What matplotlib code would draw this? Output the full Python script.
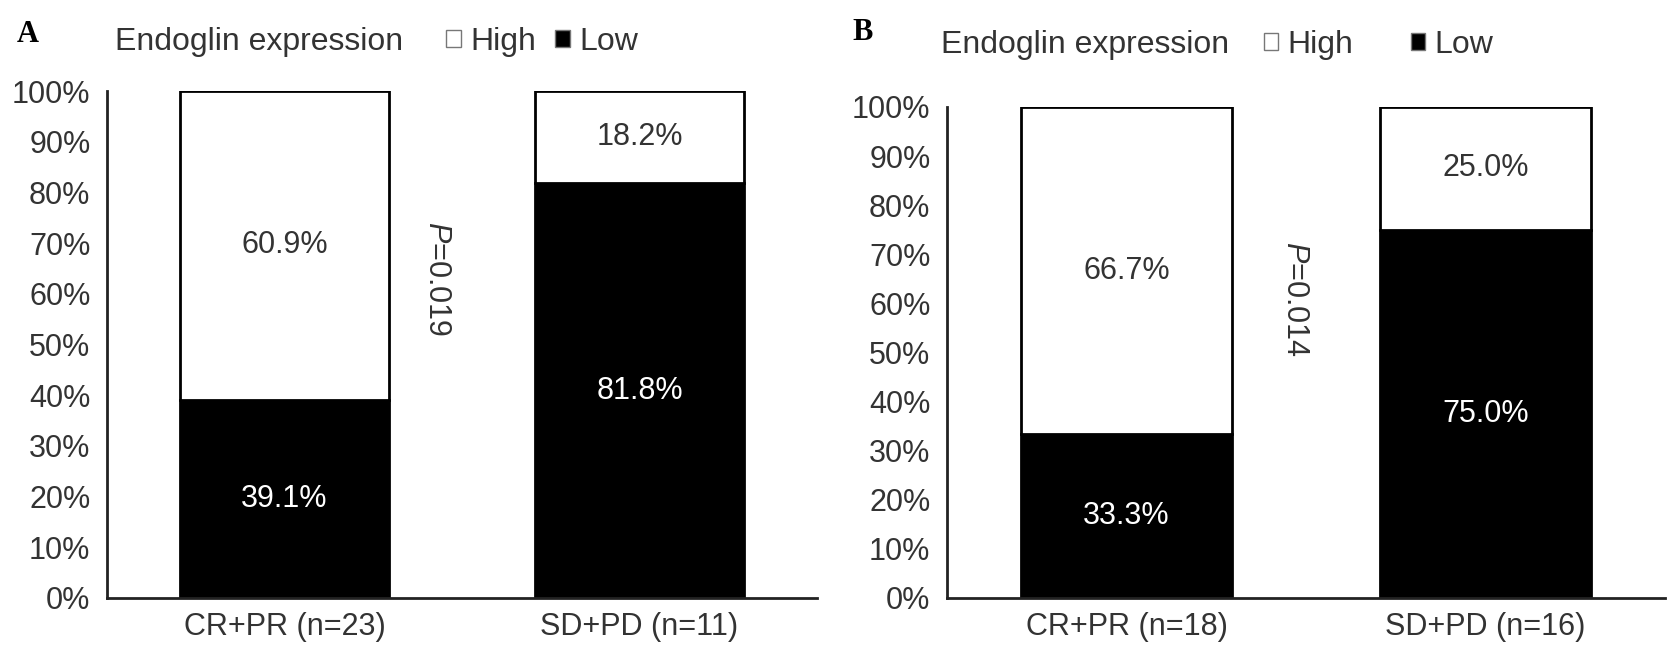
import matplotlib
matplotlib.use("Agg")
import matplotlib.pyplot as plt
import numpy as np

plt.rcParams["font.family"] = ["Liberation Sans", "DejaVu Sans"]
plt.rcParams["mathtext.fontset"] = "custom"
plt.rcParams["mathtext.rm"] = "Liberation Sans"
plt.rcParams["mathtext.it"] = "Liberation Sans:italic"

# panel A
groups_a = ["CR+PR (n=23)", "SD+PD (n=11)"]
low_a = [39.1, 81.8]
high_a = [60.9, 18.2]
p_a = "0.019"

# panel B
groups_b = ["CR+PR (n=18)", "SD+PD (n=16)"]
low_b = [33.3, 75.0]
high_b = [66.7, 25.0]
p_b = "0.014"

yticks = np.arange(0, 101, 10)
TXT = "#333333"
FS = 22


def draw_panel(ax, groups, low, high, p_text, p_x, p_y):
    x = np.arange(len(groups))
    w = 0.587
    b_low = ax.bar(x, low, width=w, color="black", edgecolor="black", linewidth=2, label="Low")
    b_high = ax.bar(x, high, width=w, bottom=low, color="white", edgecolor="black",
                    linewidth=2, label="High")
    for xi, lo, hi in zip(x, low, high):
        ax.text(xi, lo / 2, f"{lo:.1f}%", ha="center", va="center", color="white", fontsize=FS)
        ax.text(xi, lo + hi / 2, f"{hi:.1f}%", ha="center", va="center", color=TXT, fontsize=FS)
    ax.text(p_x, p_y, r"$\mathit{P}$=" + p_text, rotation=270, ha="center", va="center",
            color=TXT, fontsize=FS)
    ax.set_xlim(-0.5, len(groups) - 0.5)
    ax.set_ylim(0, 100)
    ax.set_yticks(yticks)
    ax.set_yticklabels([f"{v}%" for v in yticks])
    ax.set_xticks(x)
    ax.set_xticklabels(groups)
    ax.tick_params(axis="y", length=0, pad=12, labelsize=FS, labelcolor=TXT)
    ax.tick_params(axis="x", length=0, pad=10, labelsize=FS, labelcolor=TXT)
    for s in ["top", "right"]:
        ax.spines[s].set_visible(False)
    for s in ["left", "bottom"]:
        ax.spines[s].set_linewidth(2)
        ax.spines[s].set_color("#222222")
    return b_high, b_low


fig = plt.figure(figsize=(16.78, 6.58), dpi=100)
ax_a = fig.add_axes([0.0638, 0.0912, 0.4231, 0.7705])
ax_b = fig.add_axes([0.5644, 0.0912, 0.4279, 0.7462])

ha_, la_ = draw_panel(ax_a, groups_a, low_a, high_a, p_a, 0.43, 63)
hb_, lb_ = draw_panel(ax_b, groups_b, low_b, high_b, p_b, 0.47, 61)

fig.text(0.010, 0.947, "A", family="Liberation Serif", weight="bold", fontsize=22,
         va="center", ha="left")
fig.text(0.508, 0.951, "B", family="Liberation Serif", weight="bold", fontsize=22,
         va="center", ha="left")
fig.text(0.0685, 0.936, "Endoglin expression", fontsize=23, color=TXT, va="center")
fig.text(0.5608, 0.932, "Endoglin expression", fontsize=23, color=TXT, va="center")

for ax, hh, ll, lx, ly, cs in [(ax_a, ha_, la_, 0.266, 0.936, 0.6), (ax_b, hb_, lb_, 0.753, 0.932, 1.8)]:
    leg = fig.legend([hh, ll], ["High", "Low"], loc="center left", bbox_to_anchor=(lx, ly),
                     ncol=2, frameon=False, fontsize=23, handlelength=0.45, handleheight=0.45,
                     handletextpad=0.3, columnspacing=cs, borderpad=0, borderaxespad=0,
                     labelcolor=TXT)
    for h in leg.legend_handles:
        h.set_linewidth(1)
        h.set_edgecolor("#777777")

fig.savefig("out.png", dpi=100)
